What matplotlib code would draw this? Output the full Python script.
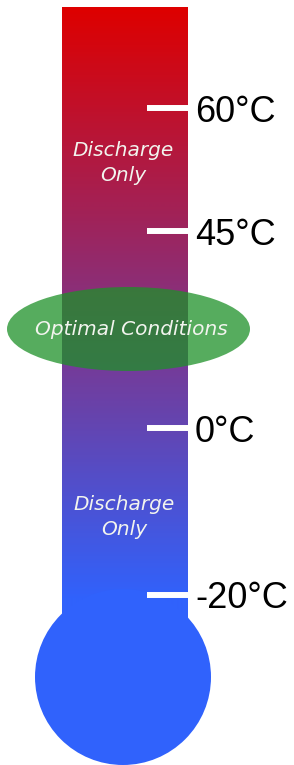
"""
Thermometer diagram: battery operating temperature ranges.
"""

import numpy as np
import matplotlib
matplotlib.use("Agg")
import matplotlib.pyplot as plt
from matplotlib.patches import Circle, Ellipse
from matplotlib.colors import LinearSegmentedColormap

# ──────────────────────────────────────────────────────────────
# Data
# ──────────────────────────────────────────────────────────────
tick_labels = ["60°C", "45°C", "0°C", "-20°C"]
tick_y      = [108, 231, 428, 595]          # pixel rows of the scale marks

zone_labels = ["Discharge\nOnly", "Optimal Conditions", "Discharge\nOnly"]
zone_x      = [123, 131, 124]
zone_y      = [163, 329, 517]

# ──────────────────────────────────────────────────────────────
# Style
# ──────────────────────────────────────────────────────────────
W, H        = 294, 765
_HOT        = (222 / 255, 0.0, 0.0)
_COLD       = (48 / 255, 98 / 255, 252 / 255)
_GREEN      = (30 / 255, 145 / 255, 40 / 255)
_TUBE_X     = (61.5, 187.5)
_TUBE_TOP   = 7
_GRAD_END   = 600
_BULB       = (123, 677, 88)

fig = plt.figure(figsize=(W / 100, H / 100), dpi=100, facecolor="white")
ax = fig.add_axes([0, 0, 1, 1])
ax.set_xlim(0, W)
ax.set_ylim(H, 0)
ax.axis("off")

# tube with vertical red -> blue gradient
cmap = LinearSegmentedColormap.from_list("temp", [_HOT, _COLD])
rows = np.arange(_TUBE_TOP, 641)
grad = np.clip((rows - _TUBE_TOP) / (_GRAD_END - _TUBE_TOP), 0, 1).reshape(-1, 1)
ax.imshow(grad, cmap=cmap, aspect="auto", interpolation="bilinear",
          extent=(_TUBE_X[0], _TUBE_X[1], 641, _TUBE_TOP), zorder=1)

# bulb
ax.add_patch(Circle(_BULB[:2], _BULB[2], facecolor=_COLD, edgecolor="none", zorder=1))

# scale marks + labels
ax.hlines(tick_y, 147, _TUBE_X[1], color="white", linewidth=4.3, zorder=2)
for y, lbl in zip(tick_y, tick_labels):
    ax.text(195, y, lbl, fontsize=26, family="Liberation Sans",
            ha="left", va="center_baseline", color="black")

# optimal window
ax.add_patch(Ellipse((128.5, 329), 243, 84, facecolor=_GREEN, alpha=0.75,
                     edgecolor="none", zorder=3))

for x, y, lbl in zip(zone_x, zone_y, zone_labels):
    ax.text(x, y, lbl, fontsize=14.5, style="italic", family="DejaVu Sans",
            ha="center", va="center", color="#f2f4ee", linespacing=1.4, zorder=4)

plt.savefig("out.png", dpi=100, facecolor=fig.get_facecolor())
plt.close(fig)
